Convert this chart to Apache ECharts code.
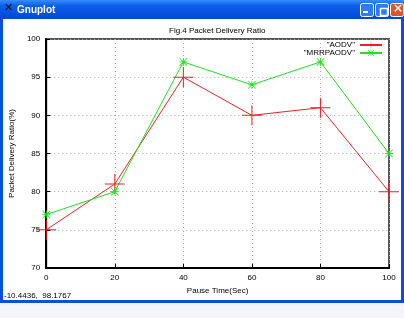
<!DOCTYPE html>
<html>
<head>
<meta charset="utf-8">
<script src="https://cdn.jsdelivr.net/npm/echarts@6/dist/echarts.min.js"></script>
<style>
  html, body { margin: 0; padding: 0; background: #ffffff; }
  #main { width: 404px; height: 318px; }
</style>
</head>
<body>
<div id="main"></div>
<script>
var pauseTime = [0, 20, 40, 60, 80, 100];
var aodv = [75, 81, 95, 90, 91, 80];
var mrrpaodv = [77, 80, 97, 94, 97, 85];

var dom = document.getElementById('main');
var myChart = echarts.init(dom, null, { renderer: 'canvas' });

var font = 'Liberation Sans';
// gnuplot style point marks
var plusMark = 'path://M0,9.5H20V10.5H0Z M9.5,0H10.5V20H9.5Z';
var starMark = 'path://M0,4.5H10V5.5H0Z M4.5,0H5.5V10H4.5Z M0.7,0L10,9.3L9.3,10L0,0.7Z M9.3,0L10,0.7L0.7,10L0,9.3Z';

function pairs(xs, ys) {
  return xs.map(function (x, i) { return [x, ys[i]]; });
}

var option = {
  backgroundColor: '#ffffff',
  animation: false,
  textStyle: { fontFamily: font },
  title: {
    text: 'Fig.4 Packet Delivery Ratio',
    left: 164,
    top: 22,
    textStyle: { fontSize: 8, fontWeight: 'normal', color: '#000', fontFamily: font }
  },
  legend: {
    orient: 'vertical',
    right: 21,
    top: 41,
    padding: 0,
    align: 'right',
    itemGap: 0,
    itemWidth: 22,
    itemHeight: 8,
    textStyle: { fontSize: 8, color: '#000', fontFamily: font, padding: [0, 0, 0, 0] },
    formatter: function (name) { return '"' + name + '"'; },
    data: ['AODV', 'MRRPAODV']
  },
  grid: {
    left: 43,
    right: 15,
    top: 39,
    bottom: 50,
    show: true,
    borderColor: '#555',
    borderWidth: 2
  },
  xAxis: {
    type: 'value',
    min: 0,
    max: 100,
    interval: 20,
    name: 'Pause Time(Sec)',
    nameLocation: 'middle',
    nameGap: 18,
    nameTextStyle: { fontSize: 8, color: '#000', fontFamily: font },
    axisLine: { lineStyle: { color: '#000', width: 2 } },
    axisTick: { inside: true, length: 4, lineStyle: { color: '#000' } },
    axisLabel: { fontSize: 8, color: '#000', margin: 6, fontFamily: font },
    splitLine: { show: true, lineStyle: { color: '#aaa', type: [1, 3], width: 1 } }
  },
  yAxis: {
    type: 'value',
    min: 70,
    max: 100,
    interval: 5,
    name: 'Packet Delivery Ratio(%)',
    nameLocation: 'middle',
    nameGap: 28,
    nameTextStyle: { fontSize: 8, color: '#000', fontFamily: font },
    axisLine: { show: true, lineStyle: { color: '#000', width: 2 } },
    axisTick: { show: true, inside: true, length: 4, lineStyle: { color: '#000' } },
    axisLabel: { fontSize: 8, color: '#000', margin: 6, fontFamily: font },
    splitLine: { show: true, lineStyle: { color: '#aaa', type: [1, 3], width: 1 } }
  },
  graphic: [
    // window title bar
    {
      type: 'rect', left: 0, top: 0, silent: true,
      shape: { width: 404, height: 19 },
      style: {
        fill: new echarts.graphic.LinearGradient(0, 0, 0, 1, [
          { offset: 0, color: '#3a8cff' },
          { offset: 0.3, color: '#0a5fe8' },
          { offset: 1, color: '#0347d6' }
        ])
      }
    },
    { type: 'text', left: 4, top: 3, silent: true,
      style: { text: '✕', fill: '#111', font: 'bold 11px DejaVu Sans' } },
    { type: 'text', left: 17, top: 5, silent: true,
      style: { text: 'Gnuplot', fill: '#fff', font: 'bold 10px Liberation Sans' } },
    { type: 'rect', left: 360, top: 3, silent: true, shape: { width: 13, height: 13, r: 2 },
      style: { fill: '#2f7bf5', stroke: '#fff', lineWidth: 1 } },
    { type: 'rect', left: 363, top: 11, silent: true, shape: { width: 5, height: 2 },
      style: { fill: '#fff' } },
    { type: 'rect', left: 375, top: 3, silent: true, shape: { width: 13, height: 13, r: 2 },
      style: { fill: '#2f7bf5', stroke: '#fff', lineWidth: 1 } },
    { type: 'rect', left: 378, top: 6, silent: true, shape: { width: 7, height: 7 },
      style: { fill: 'none', stroke: '#fff', lineWidth: 1.5 } },
    { type: 'rect', left: 390, top: 3, silent: true, shape: { width: 13, height: 13, r: 2 },
      style: { fill: '#e0542c', stroke: '#fff', lineWidth: 1 } },
    { type: 'text', left: 393, top: 3, silent: true,
      style: { text: '×', fill: '#fff', font: 'bold 12px DejaVu Sans' } },
    // window frame
    { type: 'rect', left: 0, top: 19, silent: true, shape: { width: 3, height: 283 },
      style: { fill: '#0a4ee0' } },
    { type: 'rect', left: 401, top: 19, silent: true, shape: { width: 3, height: 283 },
      style: { fill: '#0a4ee0' } },
    { type: 'rect', left: 0, top: 300, silent: true, shape: { width: 404, height: 3 },
      style: { fill: '#0a4ee0' } },
    { type: 'rect', left: 0, top: 303, silent: true, shape: { width: 404, height: 15 },
      style: { fill: '#f3f5fa' } },
    // status readout
    { type: 'text', left: 4, top: 292, silent: true,
      style: { text: '-10.4436,  98.1767', fill: '#000', font: '8px Liberation Sans' } }
  ],
  series: [
    {
      name: 'AODV',
      type: 'line',
      data: pairs(pauseTime, aodv),
      symbol: plusMark,
      symbolSize: 20,
      color: '#f02020',
      lineStyle: { width: 1, color: '#f02020' },
      itemStyle: { color: '#f02020' }
    },
    {
      name: 'MRRPAODV',
      type: 'line',
      data: pairs(pauseTime, mrrpaodv),
      symbol: starMark,
      symbolSize: 8,
      color: '#20e020',
      lineStyle: { width: 1, color: '#20e020' },
      itemStyle: { color: '#20e020' }
    }
  ]
};

myChart.setOption(option);
window.addEventListener('resize', myChart.resize);
</script>
</body>
</html>
